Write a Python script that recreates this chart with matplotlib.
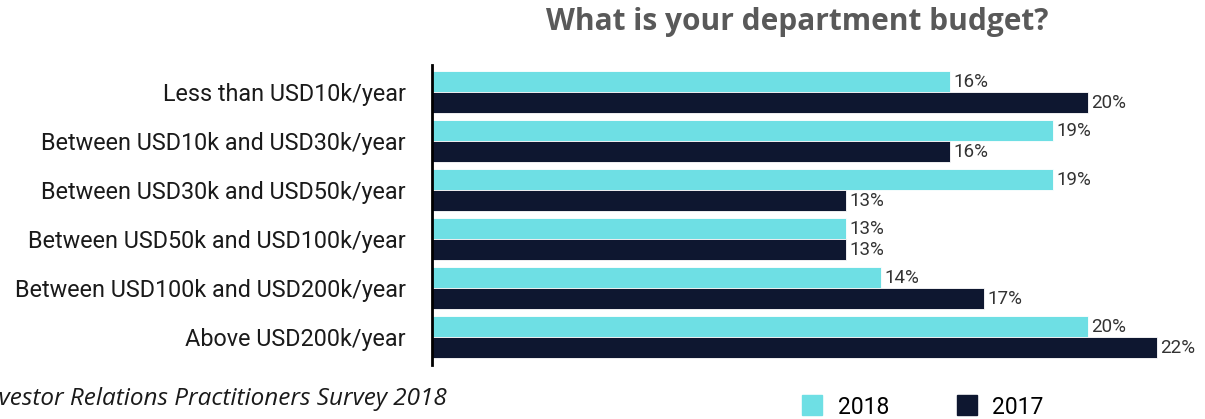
import matplotlib
import numpy as np
from matplotlib import pyplot as plt
from matplotlib.lines import Line2D

matplotlib.use("Agg")

categories = ['Less than USD10k/year',
              'Between USD10k and USD30k/year',
              'Between USD30k and USD50k/year',
              'Between USD50k and USD100k/year',
              'Between USD100k and USD200k/year',
              'Above USD200k/year']
pct_2018 = [16, 19, 19, 13, 14, 20]
pct_2017 = [20, 16, 13, 13, 17, 22]

c2018 = '#6EDFE4'
c2017 = '#0E1730'

fig = plt.figure(figsize=(12.05, 4.19), dpi=100)
ax = fig.add_axes([432 / 1205, 1 - 365 / 419, (1205 - 432) / 1205, 300 / 419])

y = np.arange(len(categories))
h = 0.43
ax.barh(y - h / 2, pct_2018, height=h, left=0, color=c2018, edgecolor='white', linewidth=0.6)
ax.barh(y + h / 2, pct_2017, height=h, left=0, color=c2017, edgecolor='white', linewidth=0.6)

for yi, v in zip(y, pct_2018):
    ax.text(v + 0.1, yi - h / 2, f'{v}%', va='center', ha='left',
            fontsize=13.5, color='#333333', family='Roboto', clip_on=False)
for yi, v in zip(y, pct_2017):
    ax.text(v + 0.1, yi + h / 2, f'{v}%', va='center', ha='left',
            fontsize=13.5, color='#333333', family='Roboto', clip_on=False)

ax.set_xlim(1, 23.4)
ax.set_ylim(5.57, -0.56)
ax.set_yticks(y)
ax.set_yticklabels(categories, fontsize=16.8, family='Roboto', color='#1a1a1a')
ax.set_xticks([])
ax.tick_params(axis='y', length=0, pad=19)
for s in ['top', 'right', 'bottom']:
    ax.spines[s].set_visible(False)
ax.spines['left'].set_linewidth(2)
ax.spines['left'].set_color('black')

fig.text(797 / 1205, 1 - 22 / 419, 'What is your department budget?', ha='center', va='center',
         fontsize=21.5, fontweight='bold', color='#595959', family='Open Sans')

fig.text(447 / 1205, 1 - 399 / 419, 'Source: Investor Relations Practitioners Survey 2018',
         ha='right', va='center', fontsize=17.5, style='italic', color='#1a1a1a',
         family='Open Sans')

handles = [Line2D([], [], marker='s', linestyle='none', markersize=15, color=c2018),
           Line2D([], [], marker='s', linestyle='none', markersize=15, color=c2017)]
fig.legend(handles, ['2018', '2017'], loc='center left', ncol=2, frameon=False,
           bbox_to_anchor=(778 / 1205, 1 - 407 / 419), prop={'family': 'Roboto', 'size': 16.5},
           handletextpad=0.5, columnspacing=2.8, handlelength=1.2)

fig.savefig('out.png', dpi=100)
